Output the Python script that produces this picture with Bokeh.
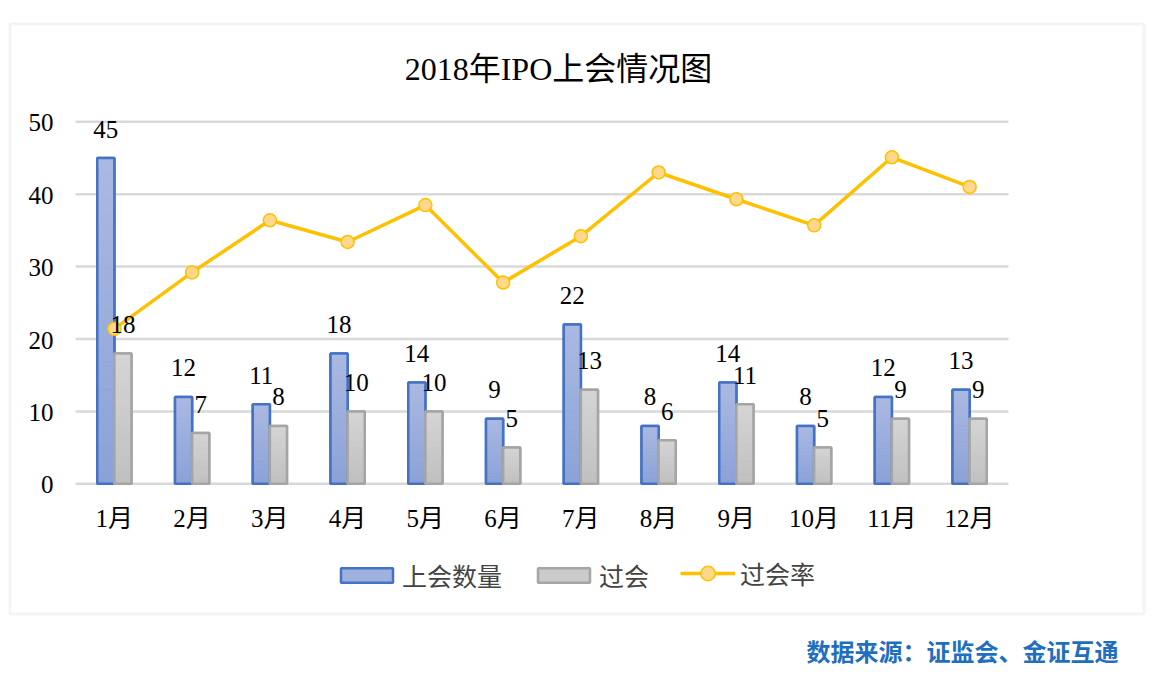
from bokeh.plotting import figure
from bokeh.models import Range1d, Legend, LegendItem, Label, BoxAnnotation
from bokeh.core.properties import value
from bokeh.embed import file_html
from bokeh.resources import INLINE

# ---- data ----
months = ["1月", "2月", "3月", "4月", "5月", "6月", "7月", "8月", "9月", "10月", "11月", "12月"]
shanghui = [45, 12, 11, 18, 14, 9, 22, 8, 14, 8, 12, 13]
guohui = [18, 7, 8, 10, 10, 5, 13, 6, 11, 5, 9, 9]
guohui_rate = [21.4, 29.2, 36.4, 33.4, 38.5, 27.8, 34.2, 43.0, 39.3, 35.7, 45.1, 41.0]
y_ticks = [0, 10, 20, 30, 40, 50]
series_names = ["上会数量", "过会", "过会率"]

title_text = "2018年IPO上会情况图"
source_text = "数据来源：证监会、金证互通"

SERIF = "'Liberation Serif', 'Noto Sans CJK SC'"
SANS = "'Noto Sans CJK SC'"

W, H = 1150, 670
# plot area: category axis 0..12 spans px 75..1008, value axis 0..50 spans px 483.3..121.3
PX_X = (1008 - 75) / len(months)
PX_Y = (483.3 - 121.3) / 50
x_range = Range1d(-75 / PX_X, (W - 75) / PX_X)
y_range = Range1d(-(H - 483.3) / PX_Y, 483.3 / PX_Y)

p = figure(width=W, height=H, x_range=x_range, y_range=y_range,
           output_backend="svg", toolbar_location=None, title=None,
           min_border=0, min_border_left=0, min_border_right=0,
           min_border_top=0, min_border_bottom=0)
p.axis.visible = False
p.grid.visible = False
p.outline_line_color = None
p.background_fill_color = "white"
p.border_fill_color = "white"

xs = [i + 0.5 for i in range(len(months))]
OFF = 0.11
BW = 0.22
xa = [x - OFF for x in xs]
xb = [x + OFF for x in xs]

# gridlines at the value ticks
p.segment(x0=[0] * len(y_ticks), x1=[len(months)] * len(y_ticks), y0=y_ticks, y1=y_ticks,
          line_color="#d9d9d9", line_width=2.5)

def hexmix(c1, c2, t):
    a = [int(c1[i:i + 2], 16) for i in (1, 3, 5)]
    b = [int(c2[i:i + 2], 16) for i in (1, 3, 5)]
    return "#%02x%02x%02x" % tuple(round(a[k] + (b[k] - a[k]) * t) for k in range(3))

NS = 24
def gradient(xc, vals, c_bottom, c_top):
    L, R, B, T, C = [], [], [], [], []
    for x, v in zip(xc, vals):
        for j in range(NS):
            L.append(x - BW / 2); R.append(x + BW / 2)
            B.append(v * j / NS); T.append(v * (j + 1) / NS)
            C.append(hexmix(c_bottom, c_top, (j + 0.5) / NS))
    p.quad(left=L, right=R, bottom=B, top=T, fill_color=C, line_color=C, line_width=0.5)

# bars: solid base (used by legend), gradient overlay, outline on top
r_a = p.vbar(x=xa, top=shanghui, width=BW, fill_color="#9fb2df", line_color="#4472c4", line_width=2.5)
gradient(xa, shanghui, "#8ba1d7", "#abbae2")
p.vbar(x=xa, top=shanghui, width=BW, fill_alpha=0, line_color="#4472c4", line_width=2.5)

r_b = p.vbar(x=xb, top=guohui, width=BW, fill_color="#cbcbcb", line_color="#a5a5a5", line_width=2.5)
gradient(xb, guohui, "#c0c0c0", "#d5d5d5")
p.vbar(x=xb, top=guohui, width=BW, fill_alpha=0, line_color="#a5a5a5", line_width=2.5)

# rate line
r_l = p.line(x=xs, y=guohui_rate, line_color="#ffc000", line_width=3.5)
r_s = p.scatter(x=xs, y=guohui_rate, size=13, fill_color="#ffd88c",
                line_color="#ffc000", line_width=1.5)

# data labels
p.text(x=xa, y=shanghui, text=[str(v) for v in shanghui],
       text_font=value(SERIF), text_font_size="25px", text_color="black",
       text_align="center", text_baseline="middle", y_offset=-29)
p.text(x=xb, y=guohui, text=[str(v) for v in guohui],
       text_font=value(SERIF), text_font_size="25px", text_color="black",
       text_align="center", text_baseline="middle", y_offset=-29)

# axis tick labels
p.text(x=xs, y=[0] * len(months), text=months, text_font=value(SERIF),
       text_font_size="25px", text_color="black", text_align="center",
       text_baseline="middle", y_offset=35)
p.text(x=[0] * len(y_ticks), y=y_ticks, text=[str(t) for t in y_ticks],
       text_font=value(SERIF), text_font_size="25px", text_color="black",
       text_align="right", text_baseline="middle", x_offset=-22, y_offset=1)

# legends
leg1 = Legend(items=[LegendItem(label=series_names[0], renderers=[r_a]),
                     LegendItem(label=series_names[1], renderers=[r_b])],
              location=(334, 77), orientation="horizontal",
              glyph_width=65, glyph_height=18, label_standoff=3, spacing=29,
              padding=0, margin=0, border_line_color=None, background_fill_alpha=0,
              label_text_font=SERIF, label_text_font_size="25px", label_height=24)
p.add_layout(leg1, "center")
leg2 = Legend(items=[LegendItem(label=series_names[2], renderers=[r_l, r_s])],
              location=(680, 79), orientation="horizontal",
              glyph_width=55, glyph_height=36, label_standoff=5,
              padding=0, margin=0, border_line_color=None, background_fill_alpha=0,
              label_text_font=SERIF, label_text_font_size="25px", label_height=24)
p.add_layout(leg2, "center")

# title
p.add_layout(Label(x=558, y=H - 68, x_units="screen", y_units="screen", text=title_text,
                   text_font=SERIF, text_font_size="32px", text_color="black",
                   text_align="center", text_baseline="middle"))
# source
p.add_layout(Label(x=806, y=H - 650, x_units="screen", y_units="screen", text=source_text,
                   text_font=SANS, text_font_size="24px", text_font_style="bold",
                   text_color="#1f6fc0", text_align="left", text_baseline="middle"))
# outer frame box
p.add_layout(BoxAnnotation(left=9.5, right=1143.5, top=H - 23.5, bottom=H - 613.5,
                           left_units="screen", right_units="screen",
                           top_units="screen", bottom_units="screen",
                           fill_alpha=0, line_color="#d9d9d9", line_width=3,
                           level="underlay"))

open("out.html", "w").write(file_html(p, INLINE))
